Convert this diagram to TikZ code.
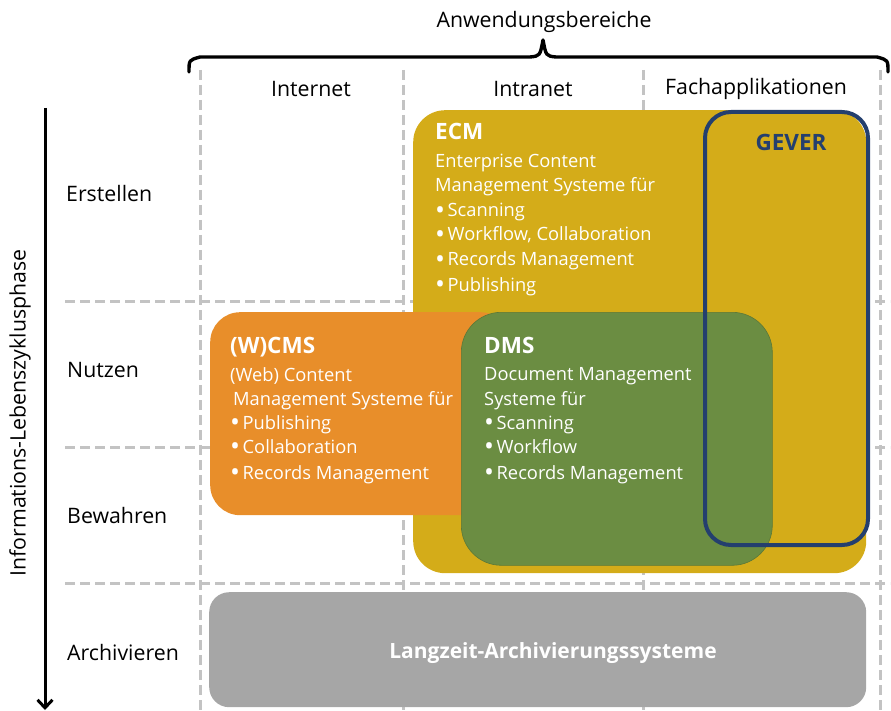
\documentclass[tikz,border=0pt]{standalone}
\usepackage{fontspec}
\setmainfont{Open Sans}
\usetikzlibrary{arrows.meta}

\definecolor{ecmyellow}{HTML}{D4AC19}
\definecolor{cmsorange}{HTML}{E88E2A}
\definecolor{dmsgreen}{HTML}{6B8D42}
\definecolor{archgray}{HTML}{A6A6A6}
\definecolor{geverblue}{HTML}{243F6E}
\definecolor{gridgray}{HTML}{C3C3C3}

% enlarged list bullet followed by a fixed gap
\newcommand{\listdot}{\raisebox{-2.6pt}{\scalebox{1.45}{•}}\hspace{2.5pt}}

\begin{document}
\begin{tikzpicture}[x=1pt,y=-1pt,
  grid/.style={draw=gridgray, line width=3pt, dash pattern=on 10pt off 5pt},
  area/.style={rectangle, draw=none, anchor=north west, inner sep=0pt},
  label/.style={font=\fontsize{21.3}{25}\selectfont, inner sep=0pt},
  rowlabel/.style={label, anchor=west},
  boxtitle/.style={font=\fontsize{22.5}{27}\bfseries\selectfont, text=white, anchor=base west, inner sep=0pt},
  boxline/.style={font=\fontsize{18.3}{22}\selectfont, text=white, anchor=base west, inner sep=0pt},
  brace/.style={draw=black, line width=3.4pt, line cap=round, line join=round}]

\useasboundingbox (0,0) rectangle (891,711);

% column and row grid
\foreach \gx/\gn in {200/a,403/b,643/c,880/d}
  \draw[grid] (\gx,70) coordinate (col-\gn-top) -- (\gx,711) coordinate (col-\gn-bot);
\foreach \gy/\gn in {301/a,447/b,583/c}
  \draw[grid] (65,\gy) coordinate (row-\gn-l) -- (890,\gy) coordinate (row-\gn-r);

% brace over the application areas
\draw[brace] (189,72) .. controls (189,60) .. (200,57) -- (530,57)
  .. controls (540,56) .. (543,40) .. controls (546,56) .. (556,57)
  -- (877,57) .. controls (888,60) .. (888,72);
\node[label] (areas) at (544,22) {Anwendungsbereiche};

% column headers
\node[label] (internet) at (311,89) {Internet};
\node[label] (intranet) at (533,89) {Intranet};
\node[label] (fach) at (756,89) {Fachapplikationen};

% lifecycle axis
\coordinate (axis-top) at (45,108);
\coordinate (axis-bot) at (45,710);
\draw[line width=3pt, -{Straight Barb[length=8pt,width=15pt,line width=3pt]}] (axis-top) -- (axis-bot);
\node[label, rotate=90] (phase) at (20,413) {Informations-Lebenszyklusphase};

% row labels
\node[rowlabel] (erstellen) at (66,194) {Erstellen};
\node[rowlabel] (nutzen) at (67,370) {Nutzen};
\node[rowlabel] (bewahren) at (67,516) {Bewahren};
\node[rowlabel] (archivieren) at (67,653) {Archivieren};

% ECM
\node[area, fill=ecmyellow, rounded corners=32pt, minimum width=453pt, minimum height=463pt] (ecm) at (413,110) {};
\node[boxtitle] (ecm-t) at (435,140) {ECM};
\node[boxline] (ecm-1) at (435,168) {Enterprise Content};
\node[boxline] (ecm-2) at (435,192) {Management Systeme für};
\node[boxline] (ecm-3) at (435,216.5) {\listdot Scanning};
\node[boxline] (ecm-4) at (435,241) {\listdot Workflow, Collaboration};
\node[boxline] (ecm-5) at (435,265.5) {\listdot Records Management};
\node[boxline] (ecm-6) at (435,291) {\listdot Publishing};

% (W)CMS
\node[area, fill=cmsorange, rounded corners=30pt, minimum width=300pt, minimum height=203pt] (cms) at (210,312) {};
\node[boxtitle] (cms-t) at (230,353) {(W)CMS};
\node[boxline] (cms-1) at (230,381) {(Web) Content};
\node[boxline] (cms-2) at (233,405) {Management Systeme für};
\node[boxline] (cms-3) at (230,429) {\listdot Publishing};
\node[boxline] (cms-4) at (230,453) {\listdot Collaboration};
\node[boxline] (cms-5) at (230,479) {\listdot Records Management};

% DMS
\node[area, fill=dmsgreen, draw=dmsgreen!85!black, line width=0.6pt, rounded corners=40pt, minimum width=311pt, minimum height=253pt] (dms) at (461,312) {};
\node[boxtitle] (dms-t) at (484,353) {DMS};
\node[boxline] (dms-1) at (484,380) {Document Management};
\node[boxline] (dms-2) at (484,405) {Systeme für};
\node[boxline] (dms-3) at (484,429) {\listdot Scanning};
\node[boxline] (dms-4) at (484,453) {\listdot Workflow};
\node[boxline] (dms-5) at (484,479) {\listdot Records Management};

% GEVER
\node[area, draw=geverblue, line width=4pt, rounded corners=26pt, minimum width=163pt, minimum height=433pt] (gever) at (703,110) {};
\node[font=\fontsize{22.5}{27}\bfseries\selectfont, text=geverblue, inner sep=0pt] (gever-t) at (791,142) {GEVER};

% long-term archive
\node[area, fill=archgray, rounded corners=20pt, minimum width=657pt, minimum height=115pt] (archiv) at (209,592) {};
\node[font=\fontsize{21}{25}\bfseries\selectfont, text=white, inner sep=0pt] (archiv-t) at (553,653) {Langzeit-Archivierungssysteme};

\end{tikzpicture}
\end{document}
